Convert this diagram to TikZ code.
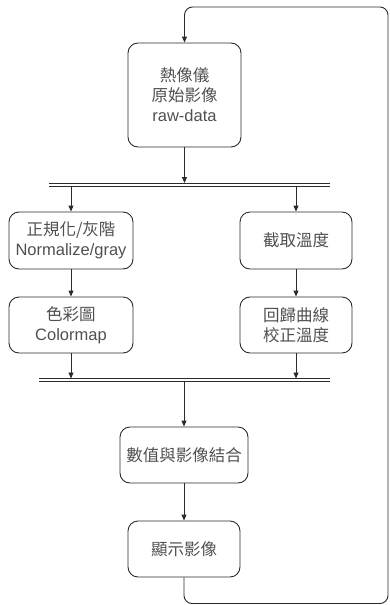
\documentclass[tikz,border=0pt]{standalone}
\usepackage{fontspec}
\setmainfont{Liberation Sans}
\newfontfamily\cjk{Noto Sans CJK TC}
\usetikzlibrary{arrows.meta,positioning}
\definecolor{linegray}{HTML}{2B2B2B}
\definecolor{textgray}{HTML}{505050}

\begin{document}
\begin{tikzpicture}[x=1pt, y=-1pt, line width=0.9pt, draw=linegray,
    every node/.style={align=center, font=\fontsize{16.5}{20}\selectfont, text=textgray},
    stepbox/.style={draw=linegray, rounded corners=10pt, inner sep=0pt},
    flow/.style={draw=linegray, -{Triangle[length=6pt,width=5pt]}},
    bar/.style={draw=linegray, line width=0.8pt}]
    \useasboundingbox (0,0) rectangle (389,605);
    % boxes
    \node[stepbox, minimum width=113pt, minimum height=104pt] (raw) at (184.5,95) {{\cjk 熱像儀}\\{\cjk 原始影像}\\raw-data};
    \node[stepbox, minimum width=124pt, minimum height=57pt] (norm) at (71,240.5) {{\cjk 正規化/灰階}\\Normalize/gray};
    \node[stepbox, minimum width=124pt, minimum height=56pt] (cmap) at (71,325) {{\cjk 色彩圖}\\Colormap};
    \node[stepbox, minimum width=112pt, minimum height=57pt] (temp) at (296,240.5) {\cjk 截取溫度};
    \node[stepbox, minimum width=112pt, minimum height=56pt] (calib) at (296,325) {{\cjk 回歸曲線}\\{\cjk 校正溫度}};
    \node[stepbox, minimum width=128pt, minimum height=56pt] (merge) at (184,455) {\cjk 數值與影像結合};
    \node[stepbox, minimum width=112pt, minimum height=56pt] (show) at (184,549) {\cjk 顯示影像};
    % bars
    \coordinate (splitL) at (49,183);
    \coordinate (splitR) at (330,183);
    \coordinate (mergeL) at (39,378.5);
    \coordinate (mergeR) at (330,378.5);
    \draw[bar] (splitL) -- (splitR);
    \draw[bar] ([yshift=-3pt]splitL) -- ([yshift=-3pt]splitR);
    \draw[bar] (mergeL) -- (mergeR);
    \draw[bar] ([yshift=-3pt]mergeL) -- ([yshift=-3pt]mergeR);
    % connectors
    \draw[flow] (raw.south) -- (raw.south |- splitL);
    \draw[flow] ([yshift=-3pt]norm.north |- splitL) -- (norm.north);
    \draw[flow] ([yshift=-3pt]temp.north |- splitL) -- (temp.north);
    \draw[flow] (norm) -- (cmap);
    \draw[flow] (temp) -- (calib);
    \draw[flow] (cmap.south) -- (cmap.south |- mergeL);
    \draw[flow] (calib.south) -- (calib.south |- mergeL);
    \draw[flow] ([yshift=-3pt]merge.north |- mergeL) -- (merge.north);
    \draw[flow] (merge) -- (show);
    % loop back
    \draw[flow, rounded corners=8pt] (show.south) -- (184,603.5) -- (388,603.5) -- (388,7) -- (184.5,7) -- (raw.north);
\end{tikzpicture}
\end{document}
